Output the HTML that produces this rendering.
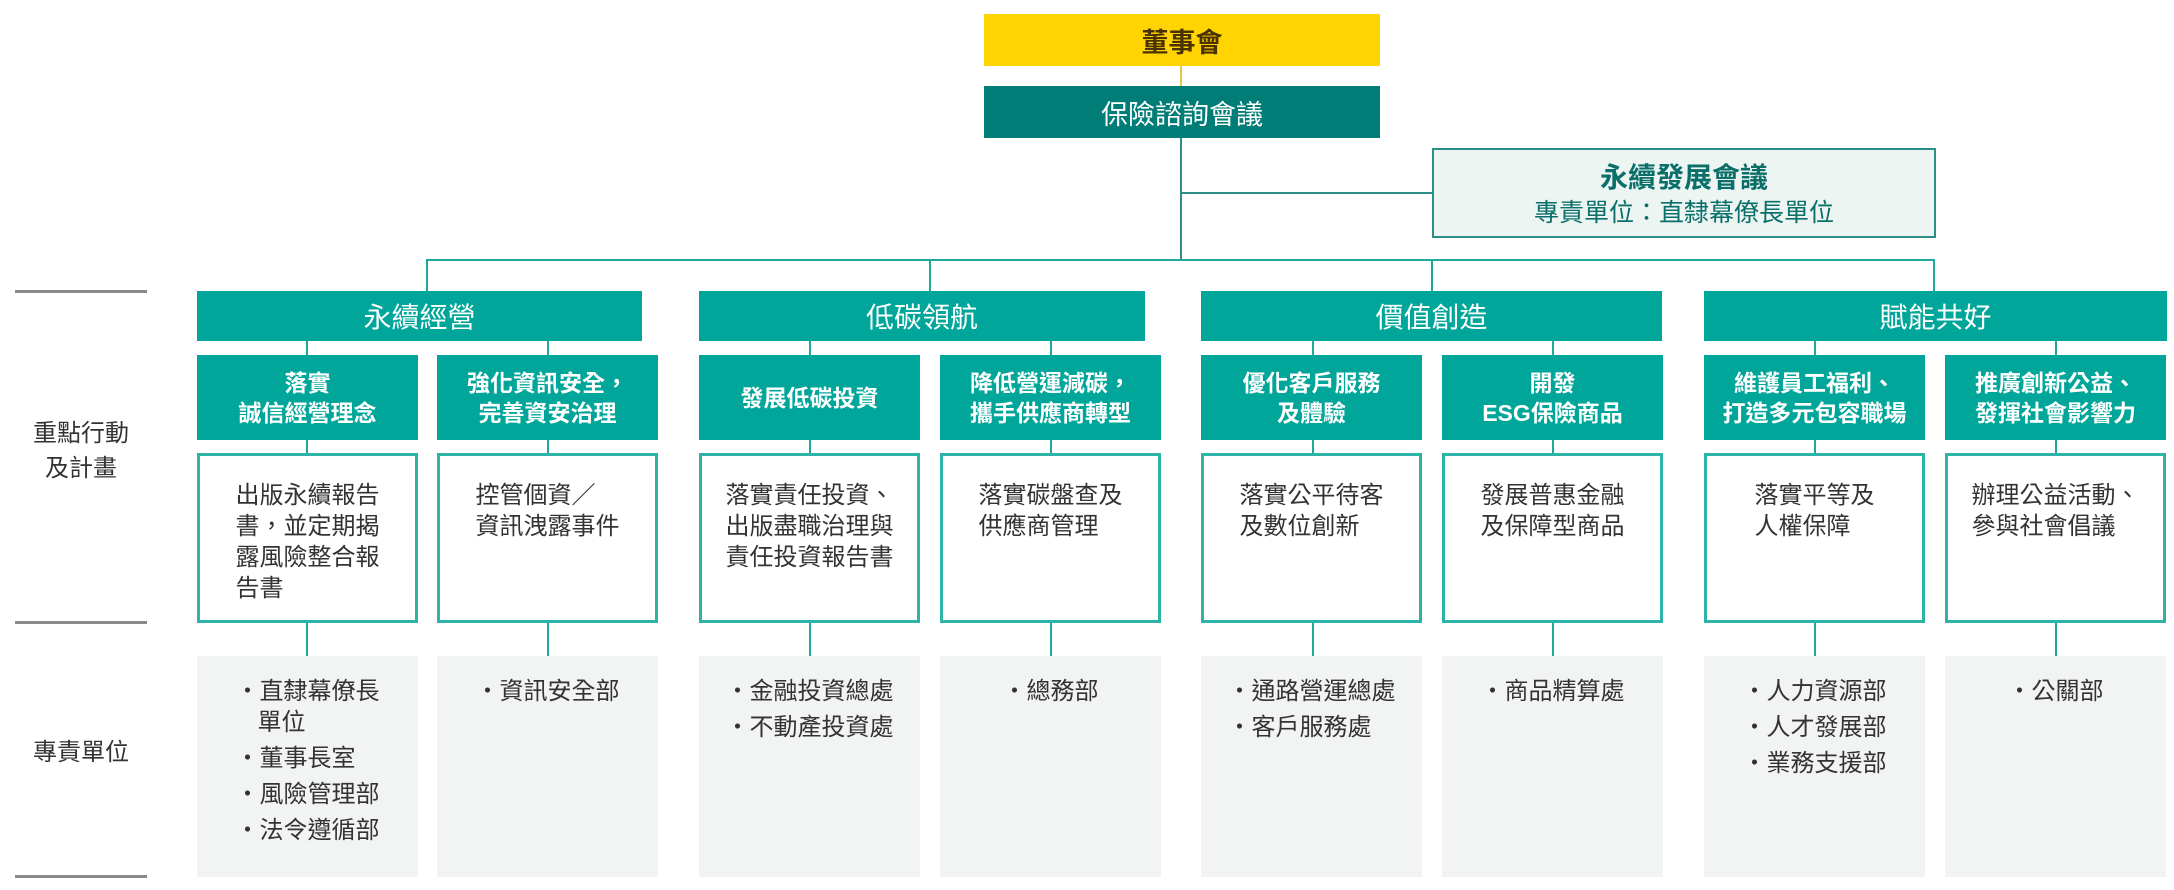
<!DOCTYPE html>
<html><head><meta charset="utf-8">
<style>
*{margin:0;padding:0;box-sizing:border-box}
body{width:2174px;height:890px;background:#fff;position:relative;overflow:hidden;font-family:"Liberation Sans","Noto Sans CJK TC",sans-serif;color:#333}
.a{position:absolute}
.ln{position:absolute;background:#1fa89c}
.cat{position:absolute;top:291px;height:50px;background:#00a699;color:#fff;font-size:28px;display:flex;align-items:center;justify-content:center}
.sub{position:absolute;top:355px;height:85px;width:221px;background:#00a699;color:#fff;font-size:23px;font-weight:bold;line-height:30px;display:flex;align-items:center;justify-content:center;text-align:center}
.desc{position:absolute;top:453px;height:170px;width:221px;border:3px solid #2db3a8;background:#fff;text-align:center;padding-top:24px;font-size:24px;line-height:31px}
.desc span,.dep span{display:inline-block;text-align:left}
.dep{position:absolute;top:656px;height:221px;width:221px;background:#f2f3f3;text-align:center;padding-top:20px;font-size:24px;line-height:31px}
.dep div{padding-left:22px;text-indent:-22px;margin-bottom:5px}
.gl{position:absolute;left:15px;width:132px;height:3px;background:#8a8a8a}
.lab{position:absolute;left:15px;width:132px;text-align:center;font-size:24px;line-height:35px;color:#333}
</style></head><body>
<div class="a" style="left:984px;top:14px;width:396px;height:52px;background:#ffd400;color:#4a3200;font-size:27px;font-weight:bold;display:flex;align-items:center;justify-content:center">董事會</div>
<div class="ln" style="left:1180px;top:66px;width:2px;height:20px;background:#e8c840"></div>
<div class="a" style="left:984px;top:86px;width:396px;height:52px;background:#007d76;color:#fff;font-size:27px;display:flex;align-items:center;justify-content:center">保險諮詢會議</div>
<div class="ln" style="left:1180px;top:138px;width:2px;height:122px;background:#2f8f88"></div>
<div class="ln" style="left:1180px;top:192px;width:252px;height:2px;background:#2f8f88"></div>
<div class="a" style="left:1432px;top:148px;width:504px;height:90px;background:#edf5f3;border:2px solid #2a8f86;text-align:center;color:#0a6f69">
<div style="font-size:28px;font-weight:bold;margin-top:9px;line-height:37px">永續發展會議</div>
<div style="font-size:25px;line-height:34px">專責單位：直隸幕僚長單位</div></div>
<div class="ln" style="left:427px;top:259px;width:1508px;height:2px"></div>
<div class="ln" style="left:426px;top:259px;width:2px;height:32px"></div>
<div class="ln" style="left:929px;top:259px;width:2px;height:32px"></div>
<div class="ln" style="left:1431px;top:259px;width:2px;height:32px"></div>
<div class="ln" style="left:1933px;top:259px;width:2px;height:32px"></div>
<div class="cat" style="left:197px;width:445px">永續經營</div>
<div class="cat" style="left:699px;width:446px">低碳領航</div>
<div class="cat" style="left:1201px;width:461px">價值創造</div>
<div class="cat" style="left:1704px;width:463px">賦能共好</div>
<div class="ln" style="left:306px;top:341px;width:2px;height:315px"></div>
<div class="ln" style="left:547px;top:341px;width:2px;height:315px"></div>
<div class="ln" style="left:809px;top:341px;width:2px;height:315px"></div>
<div class="ln" style="left:1050px;top:341px;width:2px;height:315px"></div>
<div class="ln" style="left:1312px;top:341px;width:2px;height:315px"></div>
<div class="ln" style="left:1552px;top:341px;width:2px;height:315px"></div>
<div class="ln" style="left:1814px;top:341px;width:2px;height:315px"></div>
<div class="ln" style="left:2055px;top:341px;width:2px;height:315px"></div>
<div class="sub" style="left:197px">落實<br>誠信經營理念</div>
<div class="sub" style="left:437px">強化資訊安全，<br>完善資安治理</div>
<div class="sub" style="left:699px">發展低碳投資</div>
<div class="sub" style="left:940px">降低營運減碳，<br>攜手供應商轉型</div>
<div class="sub" style="left:1201px">優化客戶服務<br>及體驗</div>
<div class="sub" style="left:1442px">開發<br>ESG保險商品</div>
<div class="sub" style="left:1704px">維護員工福利、<br>打造多元包容職場</div>
<div class="sub" style="left:1945px">推廣創新公益、<br>發揮社會影響力</div>
<div class="desc" style="left:197px"><span>出版永續報告<br>書，並定期揭<br>露風險整合報<br>告書</span></div>
<div class="desc" style="left:437px"><span>控管個資／<br>資訊洩露事件</span></div>
<div class="desc" style="left:699px"><span>落實責任投資、<br>出版盡職治理與<br>責任投資報告書</span></div>
<div class="desc" style="left:940px"><span>落實碳盤查及<br>供應商管理</span></div>
<div class="desc" style="left:1201px"><span>落實公平待客<br>及數位創新</span></div>
<div class="desc" style="left:1442px"><span>發展普惠金融<br>及保障型商品</span></div>
<div class="desc" style="left:1704px"><span>落實平等及<br>人權保障</span></div>
<div class="desc" style="left:1945px"><span>辦理公益活動、<br>參與社會倡議</span></div>
<div class="dep" style="left:197px"><span><div>・直隸幕僚長<br>單位</div><div>・董事長室</div><div>・風險管理部</div><div>・法令遵循部</div></span></div>
<div class="dep" style="left:437px"><span><div>・資訊安全部</div></span></div>
<div class="dep" style="left:699px"><span><div>・金融投資總處</div><div>・不動產投資處</div></span></div>
<div class="dep" style="left:940px"><span><div>・總務部</div></span></div>
<div class="dep" style="left:1201px"><span><div>・通路營運總處</div><div>・客戶服務處</div></span></div>
<div class="dep" style="left:1442px"><span><div>・商品精算處</div></span></div>
<div class="dep" style="left:1704px"><span><div>・人力資源部</div><div>・人才發展部</div><div>・業務支援部</div></span></div>
<div class="dep" style="left:1945px"><span><div>・公關部</div></span></div>
<div class="gl" style="top:290px"></div>
<div class="gl" style="top:621px"></div>
<div class="gl" style="top:875px"></div>
<div class="lab" style="top:416px">重點行動<br>及計畫</div>
<div class="lab" style="top:735px">專責單位</div>
</body></html>
